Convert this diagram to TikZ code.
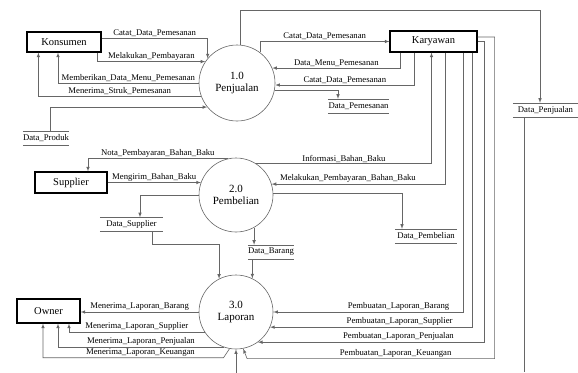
\documentclass[tikz,border=0pt]{standalone}
\usepackage{fontspec}
\setmainfont{Liberation Serif}
\usetikzlibrary{calc, positioning, shapes}
\def\flowcolor{black!60}
\def\flowwidth{0.6pt}
\def\storeheight{14pt}
\def\processsize{74pt}
\tikzset{
	% labels
	flow_label/.style={
		font=\fontsize{8.7}{10}\selectfont,
		inner sep=1.2pt,
	},
	% external entities
	entity/.style={
		draw,
		very thick,
		shape=rectangle,
		inner sep=0,
		font=\fontsize{10.5}{12}\selectfont,
	},
	% processes
	process/.style={
		draw=\flowcolor,
		line width=\flowwidth,
		shape=circle,
		inner sep=0,
		minimum size=\processsize,
		align=center,
		font=\fontsize{11}{12.5}\selectfont,
	},
	% data stores
	data_store/.style={
		inner sep=0,
		minimum height=\storeheight,
		font=\fontsize{8.7}{10}\selectfont,
	},
	store_line/.style={
		draw=\flowcolor,
		line width=\flowwidth,
	},
	% connections
	flow/.style={
		draw=\flowcolor,
		line width=\flowwidth,
		-latex,
	},
	plain_flow/.style={
		draw=\flowcolor,
		line width=\flowwidth,
	}
}

\begin{document}
\begin{tikzpicture}[x=1pt, y=-1pt]
		\useasboundingbox (0,0) rectangle (578,372);

		% Processes
		\node[process, minimum size=76pt] (penjualan) at (237,83) {1.0\\Penjualan};
		\node[process] (pembelian) at (236,195) {2.0\\Pembelian};
		\node[process] (laporan) at (236,312) {3.0\\Laporan};

		% External entities
		\node[entity, minimum width=74pt, minimum height=20pt] (konsumen) at (64,42) {Konsumen};
		\node[entity, minimum width=87pt, minimum height=21pt] (karyawan) at (433.5,41.5) {Karyawan};
		\node[entity, minimum width=72pt, minimum height=21pt] (supplier) at (71,182.5) {Supplier};
		\node[entity, minimum width=63pt, minimum height=24pt] (owner) at (48.5,311) {Owner};

		% Data stores
		\node[data_store, minimum width=61pt] (data_pemesanan) at (358.5,106) {Data\_Pemesanan};
		\node[data_store, minimum width=65pt] (data_penjualan) at (545.5,110) {Data\_Penjualan};
		\node[data_store, minimum width=46pt] (data_produk) at (46,138) {Data\_Produk};
		\node[data_store, minimum width=63pt] (data_supplier) at (131.5,224.5) {Data\_Supplier};
		\node[data_store, minimum width=46pt] (data_barang) at (271,252) {Data\_Barang};
		\node[data_store, minimum width=62pt] (data_pembelian) at (426,236) {Data\_Pembelian};

		\foreach \s in {data_pemesanan, data_penjualan, data_produk, data_supplier, data_barang, data_pembelian} {
			\draw[store_line] (\s.north west) -- (\s.north east) (\s.south west) -- (\s.south east);
		}

		% Free ends
		\coordinate (laporan_input) at ($(laporan.south)+(0,24)$);
		\coordinate (penjualan_output) at ($(data_penjualan.south)+(-21,255)$);

		% Konsumen <-> Penjualan
		\draw[flow] ($(konsumen.east)+(0,-4)$) -| (penjualan.140)
			node[flow_label, above, pos=0.25] {Catat\_Data\_Pemesanan};
		\draw[flow] ($(konsumen.south east)+(-4,0)$) |- (penjualan.146)
			node[flow_label, above, pos=0.75] {Melakukan\_Pembayaran};
		\draw[flow] (penjualan.west) -| ($(konsumen.south)+(-6,0)$)
			node[flow_label, above, pos=0.25] {Memberikan\_Data\_Menu\_Pemesanan};
		\draw[flow] (penjualan.200) -| ($(konsumen.south west)+(12,0)$)
			node[flow_label, above, pos=0.25] {Menerima\_Struk\_Pemesanan};
		\draw[flow] ($(data_produk.north)+(4,0)$) |- (penjualan.219);
		\draw[flow] (penjualan.85) -- ++(0,-35) -| ($(data_penjualan.north)+(-5.5,0)$);

		% Karyawan <-> Penjualan
		\draw[flow] (penjualan.53) |- (karyawan.west)
			node[flow_label, above, pos=0.75] {Catat\_Data\_Pemesanan};
		\draw[flow] ($(karyawan.south west)+(11,0)$) |- (penjualan.23)
			node[flow_label, above, pos=0.75] {Data\_Menu\_Pemesanan};
		\draw[flow] ($(karyawan.south west)+(25,0)$) |- (penjualan.-3)
			node[flow_label, above, pos=0.75] {Catat\_Data\_Pemesanan};
		\draw[flow] (penjualan.-11) -| ($(data_pemesanan.north)+(-20.5,0)$);

		% Pembelian
		\draw[flow] (pembelian.103) -| ($(supplier.north)+(17,0)$)
			node[flow_label, above, pos=0.25] {Nota\_Pembayaran\_Bahan\_Baku};
		\draw[flow] (supplier.east) -- (supplier.east -| pembelian.160)
			node[flow_label, above, pos=0.5] {Mengirim\_Bahan\_Baku};
		\draw[flow] (pembelian.57) -| ($(karyawan.south)+(-2,0)$)
			node[flow_label, above, pos=0.25] {Informasi\_Bahan\_Baku};
		\draw[flow] ($(karyawan.south)+(11.5,0)$) |- (pembelian.17)
			node[flow_label, above, pos=0.78] {Melakukan\_Pembayaran\_Bahan\_Baku};
		\draw[flow] (pembelian.3) -| ($(data_pembelian.north)+(-24,0)$);
		\draw[flow] (pembelian.west) -| ($(data_supplier.north)+(8.5,0)$);
		\draw[flow] (pembelian.-61) -- (pembelian.-61 |- data_barang.north);

		% Laporan
		\draw[flow] ($(data_supplier.south)+(20.5,0)$) -- ++(0,13) -| (laporan.117);
		\draw[flow] (laporan.64 |- data_barang.south) -- (laporan.64);
		\draw[flow] (laporan_input) -- (laporan.south);
		\draw[plain_flow] ($(data_penjualan.south)+(-21,0)$) -- (penjualan_output);

		% Laporan -> Owner
		\draw[flow] (laporan.west) -- (laporan.west -| owner.east)
			node[flow_label, above, pos=0.5] {Menerima\_Laporan\_Barang};
		\draw[flow] (laporan.213) -| ($(owner.south)+(20.5,0)$)
			node[flow_label, above, pos=0.25] {Menerima\_Laporan\_Supplier};
		\draw[flow] (laporan.251) -| ($(owner.south)+(9.5,0)$)
			node[flow_label, above, pos=0.25] {Menerima\_Laporan\_Penjualan};
		\draw[flow] (laporan.260) -- ++(-6,9) -| ($(owner.south)+(-5.5,0)$)
			node[flow_label, above, pos=0.23] {Menerima\_Laporan\_Keuangan};

		% Karyawan -> Laporan
		\draw[flow] ($(karyawan.south)+(29.5,0)$) |- (laporan.east)
			node[flow_label, above, pos=0.67] {Pembuatan\_Laporan\_Barang};
		\draw[flow] ($(karyawan.south)+(39,0)$) |- (laporan.-24)
			node[flow_label, above, pos=0.68] {Pembuatan\_Laporan\_Supplier};
		\draw[flow] (karyawan.east) -- ++(7,0) |- (laporan.-54)
			node[flow_label, above, pos=0.69] {Pembuatan\_Laporan\_Penjualan};
		\draw[flow] ($(karyawan.east)+(0,-4.5)$) -- ++(17,0) |- ($(laporan.-79)+(4,10)$)
			node[flow_label, above, pos=0.7] {Pembuatan\_Laporan\_Keuangan}
			-- (laporan.-79);
	\end{tikzpicture}
\end{document}
